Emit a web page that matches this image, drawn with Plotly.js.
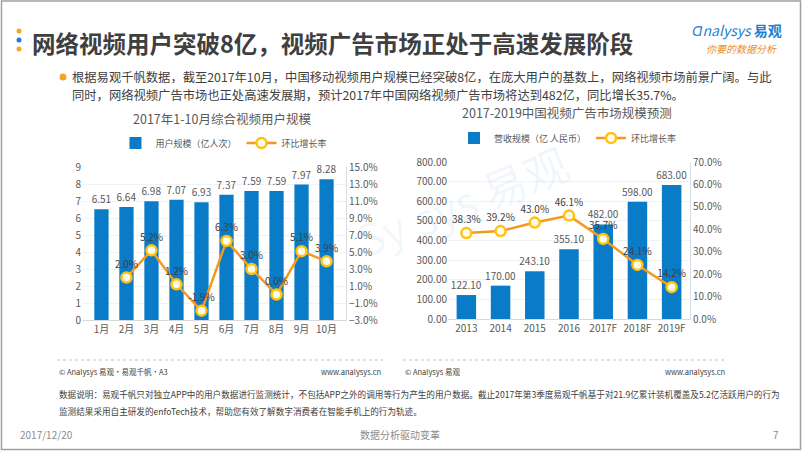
<!DOCTYPE html>
<html>
<head>
<meta charset="utf-8">
<script src="https://cdn.plot.ly/plotly-3.0.1.min.js"></script>
<style>
html,body{margin:0;padding:0;background:#fff;}
#chart{width:802px;height:451px;}
</style>
</head>
<body>
<div id="chart"></div>
<script>
// ---- Data ----
const months = ['1月','2月','3月','4月','5月','6月','7月','8月','9月','10月'];
const userScale = [6.51, 6.64, 6.98, 7.07, 6.93, 7.37, 7.59, 7.59, 7.97, 8.28];
const userGrowth = [null, 2.0, 5.2, 1.2, -1.9, 6.3, 3.0, 0.0, 5.1, 3.9];

const years = ['2013','2014','2015','2016','2017F','2018F','2019F'];
const adRevenue = [122.10, 170.00, 243.10, 355.10, 482.00, 598.00, 683.00];
const adGrowth = [38.3, 39.2, 43.0, 46.1, 35.7, 24.1, 14.2];

const leftTitle = '2017年1-10月综合视频用户规模';
const rightTitle = '2017-2019中国视频广告市场规模预测';
const seriesNames = ['用户规模（亿人次）', '环比增长率', '营收规模（亿 人民币）', '环比增长率'];

// ---- Styles ----
const FONT = '"Noto Sans CJK SC", "Microsoft YaHei", sans-serif';
const BLUE = '#0A7BC7';
const ORANGE = '#F39A1E';
const RING = '#FFC20E';
const TXT = '#595959';
const W = 802, H = 451;
const px = x => x / W;
const py = y => 1 - y / H;

const traces = [
  {
    type: 'bar', x: months, y: userScale, name: seriesNames[0],
    xaxis: 'x', yaxis: 'y', legend: 'legend',
    marker: {color: BLUE},
    text: userScale.map(v => v.toFixed(2)), textposition: 'outside', constraintext: 'none',
    textfont: {size: 10, color: TXT, family: FONT}, cliponaxis: false,
    hoverinfo: 'skip'
  },
  {
    type: 'scatter', mode: 'lines+markers+text', x: months, y: userGrowth, name: seriesNames[1],
    xaxis: 'x', yaxis: 'y2', legend: 'legend',
    line: {color: ORANGE, width: 2.5},
    marker: {size: 10, color: '#FFFBEA', line: {color: RING, width: 2.5}},
    text: userGrowth.map(v => v === null ? '' : v.toFixed(1) + '%'), textposition: 'top center',
    textfont: {size: 10, color: '#404040', family: FONT}, cliponaxis: false,
    hoverinfo: 'skip'
  },
  {
    type: 'bar', x: years, y: adRevenue, name: seriesNames[2],
    xaxis: 'x2', yaxis: 'y3', legend: 'legend2',
    marker: {color: BLUE},
    text: adRevenue.map(v => v.toFixed(2)), textposition: 'outside', constraintext: 'none',
    textfont: {size: 10, color: TXT, family: FONT}, cliponaxis: false,
    hoverinfo: 'skip'
  },
  {
    type: 'scatter', mode: 'lines+markers+text', x: years, y: adGrowth, name: seriesNames[3],
    xaxis: 'x2', yaxis: 'y4', legend: 'legend2',
    line: {color: ORANGE, width: 2.5},
    marker: {size: 10, color: '#FFFBEA', line: {color: RING, width: 2.5}},
    text: adGrowth.map(v => v.toFixed(1) + '%'), textposition: 'top center',
    textfont: {size: 10, color: '#404040', family: FONT}, cliponaxis: false,
    hoverinfo: 'skip'
  }
];

const tickFont = {size: 10, color: TXT, family: FONT};

const ann = (x, y, text, opts = {}) => Object.assign({
  xref: 'paper', yref: 'paper', x: px(x), y: py(y), text: text, showarrow: false,
  xanchor: 'left', yanchor: 'middle', font: {size: 10, color: '#404040', family: FONT}
}, opts);

const layout = {
  width: W, height: H,
  margin: {l: 0, r: 0, t: 0, b: 0},
  paper_bgcolor: '#fff', plot_bgcolor: 'rgba(0,0,0,0)',
  font: {family: FONT, color: TXT},
  bargap: 0.43,
  xaxis: {
    type: 'category', domain: [px(82), px(346)], anchor: 'y', tickfont: tickFont,
    showline: true, linecolor: '#D9D9D9', ticks: '', fixedrange: true
  },
  yaxis: {
    domain: [py(320), py(167)], range: [0, 9], dtick: 1, tick0: 0, tickfont: tickFont,
    gridcolor: '#F0F2F5', zeroline: false, showline: false, ticks: '', fixedrange: true
  },
  yaxis2: {
    overlaying: 'y', side: 'right', anchor: 'x', range: [-3, 15], dtick: 2, tick0: -3,
    tickformat: '.1f', ticksuffix: '%', tickfont: tickFont,
    showgrid: false, zeroline: false, showline: true, linecolor: '#D6DEE8', ticks: '', fixedrange: true
  },
  xaxis2: {
    type: 'category', domain: [px(448), px(690)], anchor: 'y3', tickfont: tickFont,
    showline: true, linecolor: '#D9D9D9', ticks: '', fixedrange: true
  },
  yaxis3: {
    domain: [py(319), py(162)], anchor: 'x2', range: [0, 800], dtick: 100, tick0: 0,
    tickformat: '.2f', tickfont: tickFont,
    gridcolor: '#F0F2F5', zeroline: false, showline: false, ticks: '', fixedrange: true
  },
  yaxis4: {
    overlaying: 'y3', side: 'right', anchor: 'x2', range: [0, 70], dtick: 10, tick0: 0,
    tickformat: '.1f', ticksuffix: '%', tickfont: tickFont,
    showgrid: false, zeroline: false, showline: true, linecolor: '#D6DEE8', ticks: '', fixedrange: true
  },
  legend: {
    orientation: 'h', x: px(224), xanchor: 'center', y: py(143), yanchor: 'middle',
    font: {size: 9, color: TXT, family: FONT}, itemwidth: 30,
    bgcolor: 'rgba(0,0,0,0)'
  },
  legend2: {
    orientation: 'h', x: px(568), xanchor: 'center', y: py(138), yanchor: 'middle',
    font: {size: 9, color: TXT, family: FONT}, itemwidth: 30,
    bgcolor: 'rgba(0,0,0,0)'
  },
  shapes: [
    // slide border
    {type: 'rect', xref: 'paper', yref: 'paper', x0: px(1.5), x1: px(800.5), y0: py(449.5), y1: py(1),
     line: {color: '#A0A0A0', width: 1.5}, layer: 'below'},
    // title dots
    {type: 'circle', xref: 'paper', yref: 'paper', x0: px(16.5), x1: px(21.5), y0: py(33.5), y1: py(28.5), fillcolor: '#F5A623', line: {width: 0}},
    {type: 'circle', xref: 'paper', yref: 'paper', x0: px(16.5), x1: px(21.5), y0: py(42.5), y1: py(37.5), fillcolor: '#1E7FD0', line: {width: 0}},
    {type: 'circle', xref: 'paper', yref: 'paper', x0: px(16.5), x1: px(21.5), y0: py(51.5), y1: py(46.5), fillcolor: '#F5A623', line: {width: 0}},
    // bullet dot
    {type: 'circle', xref: 'paper', yref: 'paper', x0: px(59.5), x1: px(66.5), y0: py(80.5), y1: py(73.5), fillcolor: '#F5A623', line: {width: 0}},
    // footer dotted lines
    {type: 'line', xref: 'paper', yref: 'paper', x0: px(57), x1: px(383), y0: py(360), y1: py(360), line: {color: '#BFBFBF', width: 1, dash: 'dot'}},
    {type: 'line', xref: 'paper', yref: 'paper', x0: px(403), x1: px(727), y0: py(360), y1: py(360), line: {color: '#BFBFBF', width: 1, dash: 'dot'}}
  ],
  annotations: [
    ann(30, 43, '<b>网络视频用户突破8亿，视频广告市场正处于高速发展阶段</b>', {font: {size: 23.5, color: '#3F3F3F', family: FONT}}),
    ann(690, 30, '<i>Ɑnalysys</i> <b>易观</b>', {font: {size: 14, color: '#1E7FD0', family: FONT}}),
    ann(704, 48, '<i>你要的数据分析</i>', {font: {size: 10, color: '#E8912C', family: FONT}}),
    ann(70, 77, '根据易观千帆数据，截至2017年10月，中国移动视频用户规模已经突破8亿，在庞大用户的基数上，网络视频市场前景广阔。与此', {font: {size: 12.3, color: '#404040', family: FONT}}),
    ann(70, 95, '同时，网络视频广告市场也正处高速发展期，预计2017年中国网络视频广告市场将达到482亿，同比增长35.7%。', {font: {size: 12.3, color: '#404040', family: FONT}}),
    ann(222, 118, leftTitle, {xanchor: 'center', font: {size: 12.5, color: TXT, family: FONT}}),
    ann(567, 113, rightTitle, {xanchor: 'center', font: {size: 12.5, color: TXT, family: FONT}}),
    // watermarks
    ann(490, 190, 'sys 易观', {xanchor: 'center', textangle: -22, font: {size: 44, color: 'rgba(30,127,208,0.07)', family: FONT}}),
    ann(380, 232, 'Sy', {xanchor: 'center', textangle: -22, font: {size: 44, color: 'rgba(30,127,208,0.06)', family: FONT}}),
    ann(57, 371, '© Analysys 易观·易观千帆·A3', {font: {size: 7.5, color: '#404040', family: FONT}}),
    ann(383, 371, 'www.analysys.cn', {xanchor: 'right', font: {size: 7.5, color: '#404040', family: FONT}}),
    ann(403, 371, '© Analysys 易观', {font: {size: 7.5, color: '#404040', family: FONT}}),
    ann(727, 371, 'www.analysys.cn', {xanchor: 'right', font: {size: 7.5, color: '#404040', family: FONT}}),
    ann(57, 394, '数据说明：易观千帆只对独立APP中的用户数据进行监测统计，不包括APP之外的调用等行为产生的用户数据。截止2017年第3季度易观千帆基于对21.9亿累计装机覆盖及5.2亿活跃用户的行为', {font: {size: 8.6, color: '#404040', family: FONT}}),
    ann(57, 411, '监测结果采用自主研发的enfoTech技术，帮助您有效了解数字消费者在智能手机上的行为轨迹。', {font: {size: 8.6, color: '#404040', family: FONT}}),
    ann(18, 434, '2017/12/20', {font: {size: 10, color: '#8C8C8C', family: FONT}}),
    ann(400, 434, '数据分析驱动变革', {xanchor: 'center', font: {size: 10, color: '#8C8C8C', family: FONT}}),
    ann(781, 434, '7', {xanchor: 'right', font: {size: 10, color: '#8C8C8C', family: FONT}})
  ]
};

Plotly.newPlot('chart', traces, layout, {displayModeBar: false, staticPlot: true});
</script>
</body>
</html>
